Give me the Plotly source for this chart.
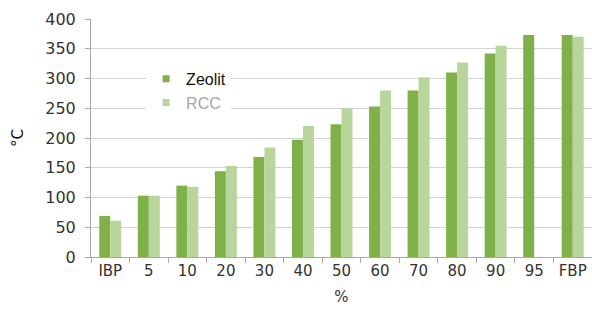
import plotly.graph_objects as go

categories = ["IBP", "5", "10", "20", "30", "40", "50", "60", "70", "80", "90", "95", "FBP"]
zeolit = [69, 103, 120, 144, 168, 197, 223, 253, 280, 310, 342, 373, 373]
rcc = [61, 103, 118, 153, 184, 220, 250, 280, 302, 327, 355, None, 370]

c_zeo = "rgb(128,177,72)"
c_rcc = "rgb(184,214,156)"
font_family = "DejaVu Sans, Liberation Sans, Arial, sans-serif"

fig = go.Figure()
fig.add_trace(go.Bar(x=categories, y=zeolit, name="Zeolit", showlegend=False,
                     marker=dict(color=c_zeo, line=dict(width=0))))
fig.add_trace(go.Bar(x=categories, y=rcc, name="RCC", showlegend=False,
                     marker=dict(color=c_rcc, line=dict(width=0))))
# legend entries (small square swatches like the original)
fig.add_trace(go.Scatter(x=[None], y=[None], mode="markers", name="Zeolit",
                         marker=dict(symbol="square", size=7, color=c_zeo)))
fig.add_trace(go.Scatter(x=[None], y=[None], mode="markers",
                         name="<span style='color:#a6a6a6'>RCC</span>",
                         marker=dict(symbol="square", size=7, color=c_rcc)))

fig.update_layout(
    width=592, height=309,
    margin=dict(l=91, r=0, t=19, b=52, autoexpand=False),
    paper_bgcolor="white", plot_bgcolor="white",
    barmode="group", bargap=0.43, bargroupgap=0,
    font=dict(family=font_family, size=14, color="#333333"),
    showlegend=True,
    legend=dict(x=0.11, y=0.82, xanchor="left", yanchor="top",
                bgcolor="white", font=dict(family="Liberation Sans, Arial, sans-serif",
                                           size=16, color="#111111"),
                itemwidth=30, tracegroupgap=0),
    xaxis=dict(type="category", showline=True, linecolor="#a8a8a8", linewidth=1,
               ticks="outside", tickson="boundaries", ticklen=5, tickcolor="#a8a8a8",
               showgrid=False, automargin=False,
               tickfont=dict(size=15, color="#333333"),
               title=dict(text="%", font=dict(size=15, color="#333333"), standoff=12)),
    yaxis=dict(range=[0, 400], dtick=50, showline=True, linecolor="#a8a8a8", linewidth=1,
               ticks="outside", ticklen=5, tickcolor="#a8a8a8",
               showgrid=True, gridcolor="#d4d4d4", gridwidth=1, zeroline=False,
               automargin=False, ticklabelstandoff=6,
               tickfont=dict(size=16, color="#333333"),
               title=dict(text="°C", font=dict(size=15, color="#111111"), standoff=18)),
)

fig.write_html("out.html", config={"displayModeBar": False},
               post_script="document.body.style.margin='0';")
